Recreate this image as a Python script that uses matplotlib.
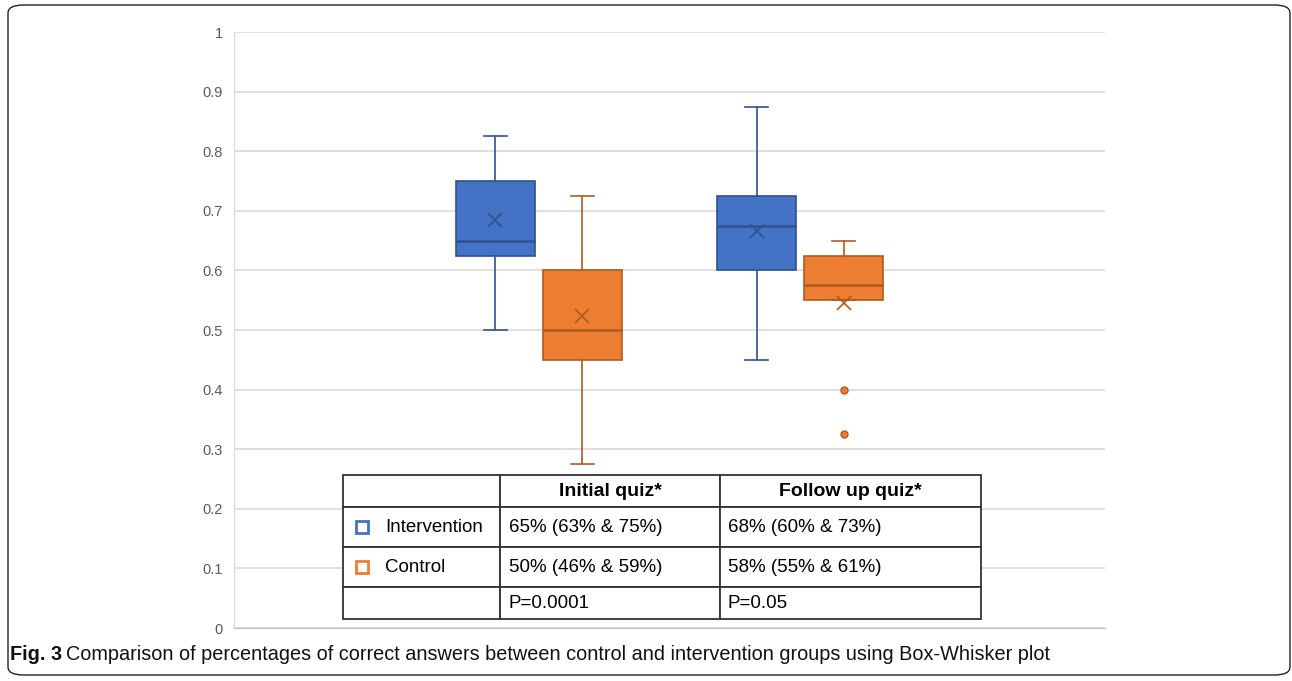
import matplotlib
matplotlib.use("Agg")
import matplotlib.pyplot as plt
from matplotlib.lines import Line2D
from matplotlib.patches import FancyBboxPatch
from matplotlib.ticker import FuncFormatter

# box statistics (fraction of correct answers)
groups = ["Intervention", "Control"]
quizzes = ["Initial quiz*", "Follow up quiz*"]
whislo = [0.50, 0.275, 0.45, 0.55]
q1 = [0.625, 0.45, 0.60, 0.55]
med = [0.65, 0.50, 0.675, 0.575]
q3 = [0.75, 0.60, 0.725, 0.625]
whishi = [0.825, 0.725, 0.875, 0.65]
means = [0.684, 0.523, 0.666, 0.546]
fliers = [[], [], [], [0.40, 0.325]]
positions = [3, 4, 6, 7]

table_rows = [
    ["", "Initial quiz*", "Follow up quiz*"],
    ["Intervention", "65% (63% & 75%)", "68% (60% & 73%)"],
    ["Control", "50% (46% & 59%)", "58% (55% & 61%)"],
    ["", "P=0.0001", "P=0.05"],
]

fill = {"Intervention": "#4472C4", "Control": "#ED7D31"}
edge = {"Intervention": "#2F528F", "Control": "#AE5A21"}

plt.rcParams["font.family"] = ["Liberation Sans", "DejaVu Sans"]

fig = plt.figure(figsize=(12.92, 6.81), dpi=100)
ax = fig.add_axes([0.1811, 0.0778, 0.6742, 0.8752])

for i in range(4):
    g = groups[i % 2]
    stats = [{"whislo": whislo[i], "q1": q1[i], "med": med[i], "q3": q3[i],
              "whishi": whishi[i], "mean": means[i], "fliers": fliers[i]}]
    ax.bxp(stats, positions=[positions[i]], widths=0.91, capwidths=0.27,
           patch_artist=True, showmeans=True, manage_ticks=False,
           boxprops=dict(facecolor=fill[g], edgecolor=edge[g], linewidth=1.2),
           medianprops=dict(color=edge[g], linewidth=1.8),
           whiskerprops=dict(color=edge[g], linewidth=1.2),
           capprops=dict(color=edge[g], linewidth=1.2),
           meanprops=dict(marker="x", markeredgecolor=edge[g], markersize=10,
                          markeredgewidth=1.2),
           flierprops=dict(marker="o", markerfacecolor=fill[g], markeredgecolor=edge[g],
                           markersize=5))

ax.set_xlim(0, 10)
ax.set_ylim(0, 1)
ax.set_yticks([i / 10 for i in range(11)])
ax.yaxis.set_major_formatter(FuncFormatter(lambda v, p: f"{v:g}"))
ax.set_xticks([])
ax.tick_params(axis="y", length=0, pad=8, labelsize=10.5, labelcolor="#595959")
ax.grid(axis="y", color="#D9D9D9", linewidth=1.2)
ax.set_axisbelow(True)
for s in ["top", "right"]:
    ax.spines[s].set_visible(False)
ax.spines["left"].set_color("#D9D9D9")
ax.spines["bottom"].set_color("#BFBFBF")

# summary table drawn over the lower part of the plot
tab = ax.table(cellText=table_rows, colWidths=[157, 220, 261],
               bbox=[(343 - 234) / 871, (628 - 619) / 596, 638 / 871, 144 / 596])
tab.auto_set_font_size(False)
tab.set_fontsize(13.5)
row_h = [32, 40, 40, 32]
for (r, c), cell in tab.get_celld().items():
    cell.set_height(row_h[r])
    cell.set_edgecolor("#333333")
    cell.set_linewidth(1.3)
    cell.set_facecolor("white")
    if r == 0:
        cell.get_text().set_fontweight("bold")
        cell.get_text().set_fontsize(14)
        cell.get_text().set_horizontalalignment("center")
    else:
        cell.get_text().set_horizontalalignment("left")
        cell.PAD = 0.27 if c == 0 else (0.04 if c == 1 else 0.03)
tab.set_zorder(5)

# legend squares in the table's first column
for k, g in enumerate(groups):
    fig.add_artist(Line2D([362 / 1292], [1 - (527 + 40 * k) / 681], marker="s",
                          markersize=8.5, markerfacecolor="white",
                          markeredgecolor=fill[g], markeredgewidth=2,
                          transform=fig.transFigure, zorder=10))

# frame and caption
fig.add_artist(FancyBboxPatch((8 / 1292, 6 / 681), 1282 / 1292, 670 / 681,
                              boxstyle="round,pad=0,rounding_size=0.012",
                              transform=fig.transFigure, fill=False,
                              edgecolor="#222222", linewidth=1))
t1 = fig.text(10 / 1292, 1 - 654 / 681, "Fig. 3", fontsize=14.3, fontweight="bold",
              va="center", color="#111111")
fig.canvas.draw()
bb = t1.get_window_extent()
fig.text(bb.x1 / 1292 + 4 / 1292, 1 - 654 / 681,
         "Comparison of percentages of correct answers between control and intervention groups using Box-Whisker plot",
         fontsize=14.3, va="center", color="#111111")

fig.savefig("out.png", dpi=100)
